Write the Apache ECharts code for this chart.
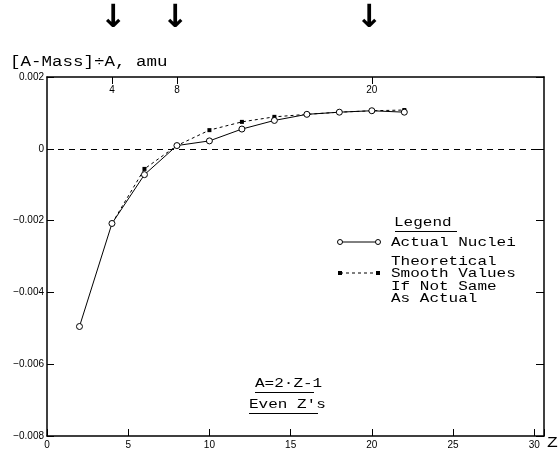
<!DOCTYPE html>
<html>
<head>
<meta charset="utf-8">
<script src="https://cdn.jsdelivr.net/npm/echarts@6/dist/echarts.min.js"></script>
<style>html,body{margin:0;padding:0;background:#fff;}#c{width:559px;height:457px;}</style>
</head>
<body>
<div id="c"></div>
<script>
// ---- data ----
const actualZ = [2, 4, 6, 8, 10, 12, 14, 16, 18, 20, 22];
const actualVal = [-0.00495, -0.00208, -0.00072, 0.00009, 0.00022, 0.00055, 0.00079, 0.00096, 0.00102, 0.00106, 0.00102];
const theoryZ = [4, 6, 8, 10, 12, 14, 16, 18, 20, 22];
const theoryVal = [-0.00208, -0.00056, 0.00009, 0.00052, 0.00075, 0.00089, 0.00096, 0.00102, 0.00106, 0.00108];
const theoryDiffers = [false, true, false, true, true, true, false, false, false, true];
const topTicks = [4, 8, 20];
const xTicks = [0, 5, 10, 15, 20, 25, 30];

const mono = '"Liberation Mono","Courier New",monospace';
const small = '"Liberation Sans Narrow","Liberation Sans",Arial,sans-serif';

const chart = echarts.init(document.getElementById('c'), null, {renderer: 'canvas'});
const axisLine = {show: true, onZero: false, lineStyle: {color: '#000', width: 1.5}};
const SY = 0.85;
function txt(x, y, text, extra) {
  return Object.assign({type: 'text', x: x, y: y, scaleY: SY,
    style: Object.assign({text: text, font: '16px ' + mono, fill: '#000', textVerticalAlign: 'middle'}, extra || {})});
}
const arrowFont = 'bold 32px "DejaVu Sans",sans-serif';

chart.setOption({
  animation: false,
  backgroundColor: '#fff',
  grid: {left: 47, right: 15, top: 77, bottom: 21, containLabel: false},
  xAxis: [{
    type: 'value', position: 'bottom', min: 0, max: 30.6, interval: 5,
    axisLine: axisLine, splitLine: {show: false},
    axisTick: {show: true, inside: true, length: 7, lineStyle: {color: '#000', width: 1}},
    axisLabel: {color: '#000', fontFamily: small, fontSize: 10, margin: 4,
      formatter: v => xTicks.indexOf(v) >= 0 ? String(v) : ''}
  }, {
    type: 'value', position: 'top', min: 0, max: 30.6,
    axisLine: axisLine, splitLine: {show: false},
    axisTick: {show: true, inside: true, length: 7, customValues: topTicks, lineStyle: {color: '#000', width: 1}},
    axisLabel: {show: true, inside: true, color: '#000', fontFamily: small, fontSize: 10, margin: 8,
      customValues: topTicks, formatter: v => String(v)}
  }],
  yAxis: [{
    type: 'value', position: 'left', min: -0.008, max: 0.002, interval: 0.002,
    axisLine: axisLine, splitLine: {show: false},
    axisTick: {show: true, inside: true, length: 7, lineStyle: {color: '#000', width: 1}},
    axisLabel: {color: '#000', fontFamily: small, fontSize: 10, margin: 3,
      formatter: v => {
        const r = Math.round(v * 1000) / 1000;
        if (Math.abs(r) < 1e-9) return '0';
        return (r < 0 ? '\u2212' : '') + Math.abs(r).toFixed(3);
      }}
  }, {
    type: 'value', position: 'right', min: -0.008, max: 0.002, interval: 0.002,
    axisLine: axisLine, splitLine: {show: false},
    axisTick: {show: true, inside: true, length: 8, lineStyle: {color: '#000', width: 1}},
    axisLabel: {show: false}
  }],
  series: [{
    name: 'Theoretical', type: 'line', xAxisIndex: 0, yAxisIndex: 0, z: 2,
    data: theoryZ.map((z, i) => ({value: [z, theoryVal[i]], symbol: theoryDiffers[i] ? 'rect' : 'none'})),
    symbolSize: 4, showAllSymbol: true,
    lineStyle: {color: '#000', width: 1, type: [3, 3]},
    itemStyle: {color: '#000'},
    markLine: {
      silent: true, symbol: 'none', label: {show: false},
      lineStyle: {color: '#000', width: 1, type: [6, 5]},
      data: [{yAxis: 0}]
    }
  }, {
    name: 'Actual Nuclei', type: 'line', xAxisIndex: 0, yAxisIndex: 0, z: 3,
    data: actualZ.map((z, i) => [z, actualVal[i]]),
    symbol: 'circle', symbolSize: 6, showAllSymbol: true,
    lineStyle: {color: '#000', width: 1},
    itemStyle: {color: '#fff', borderColor: '#000', borderWidth: 1}
  }],
  graphic: [
    // arrows
    {type: 'text', left: 100, top: 3, style: {text: '\u2193', font: arrowFont, fill: '#000'}},
    {type: 'text', left: 162, top: 3, style: {text: '\u2193', font: arrowFont, fill: '#000'}},
    {type: 'text', left: 356, top: 3, style: {text: '\u2193', font: arrowFont, fill: '#000'}},
    // y title
    txt(10, 62, '[A-Mass]\u00f7A, amu', {font: '17.5px ' + mono}),
    // Z label
    txt(547, 443, 'Z', {font: '18px ' + mono}),
    // legend
    txt(394, 222, 'Legend'),
    {type: 'line', shape: {x1: 395, y1: 231.5, x2: 457, y2: 231.5}, style: {stroke: '#000', lineWidth: 1}},
    {type: 'line', shape: {x1: 339, y1: 242, x2: 378, y2: 242}, style: {stroke: '#000', lineWidth: 1}},
    {type: 'circle', shape: {cx: 340, cy: 242, r: 2.5}, style: {fill: '#fff', stroke: '#000', lineWidth: 1}},
    {type: 'circle', shape: {cx: 378, cy: 242, r: 2.5}, style: {fill: '#fff', stroke: '#000', lineWidth: 1}},
    txt(391, 242, 'Actual Nuclei'),
    {type: 'line', shape: {x1: 340, y1: 273, x2: 378, y2: 273}, style: {stroke: '#000', lineWidth: 1, lineDash: [3, 3]}},
    {type: 'rect', shape: {x: 338, y: 271, width: 4, height: 4}, style: {fill: '#000'}},
    {type: 'rect', shape: {x: 376, y: 271, width: 4, height: 4}, style: {fill: '#000'}},
    txt(391, 261, 'Theoretical'),
    txt(391, 273.5, 'Smooth Values'),
    txt(391, 286, 'If Not Same'),
    txt(391, 298.5, 'As Actual'),
    // annotation
    txt(255, 383, 'A=2\u00b7Z-1'),
    {type: 'line', shape: {x1: 255, y1: 392.5, x2: 314, y2: 392.5}, style: {stroke: '#000', lineWidth: 1}},
    txt(249, 404, "Even Z's"),
    {type: 'line', shape: {x1: 249, y1: 413.5, x2: 318, y2: 413.5}, style: {stroke: '#000', lineWidth: 1}}
  ]
});
</script>
</body>
</html>
